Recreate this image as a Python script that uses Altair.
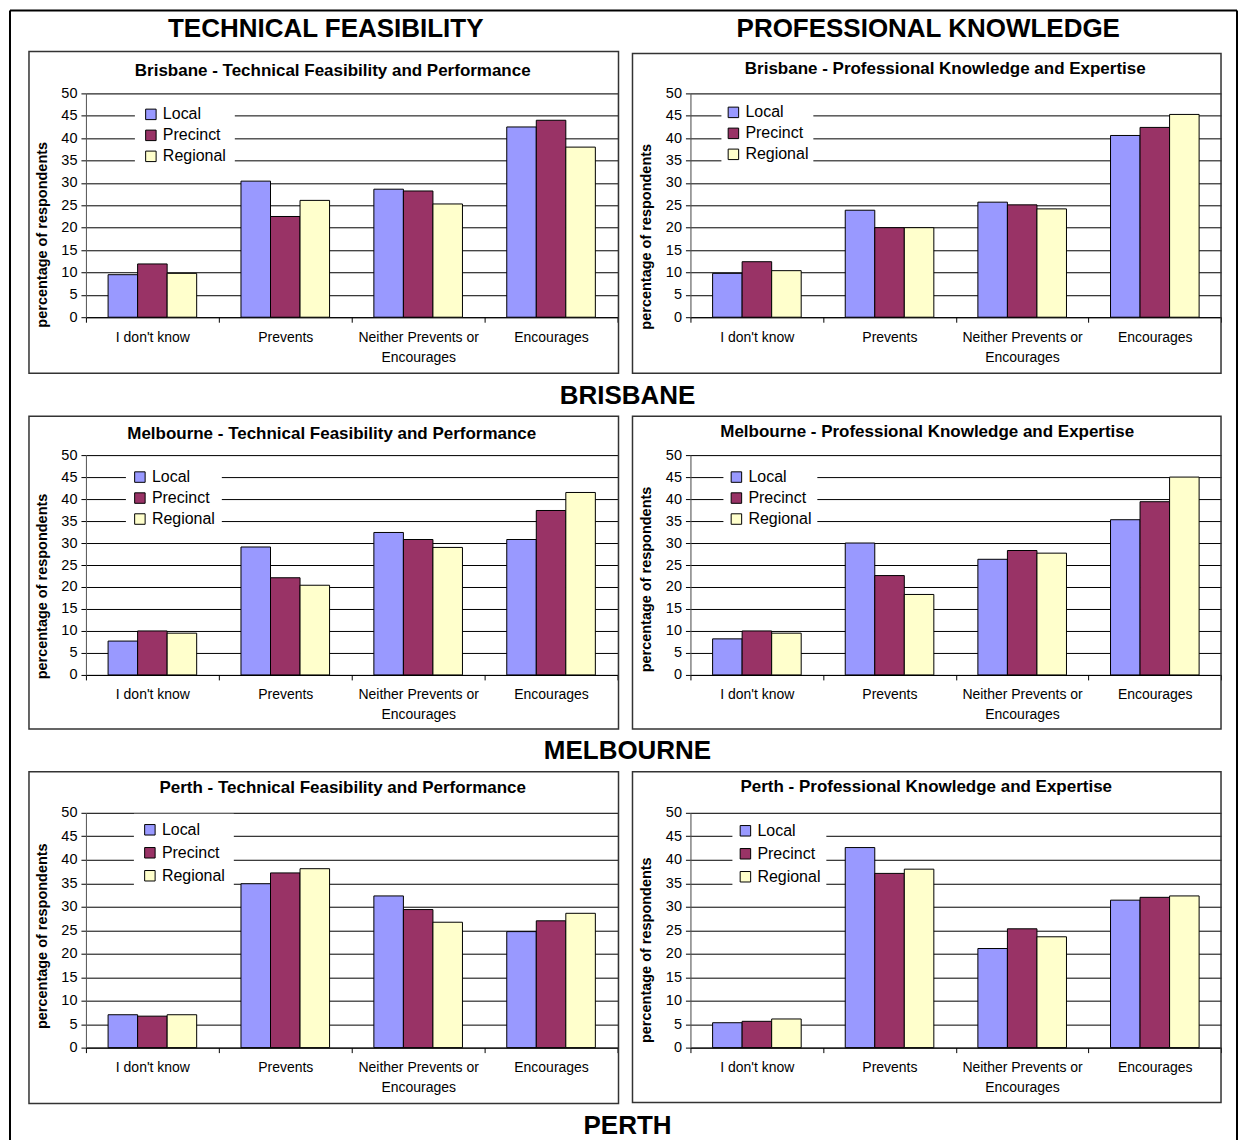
import altair as alt
import pandas as pd

FONT = "Liberation Sans"

categories = ["I don't know", "Prevents", "Neither Prevents or Encourages", "Encourages"]
series = ["Local", "Precinct", "Regional"]
colors = ["#9999FF", "#993366", "#FFFFCC"]

# Brisbane - Technical Feasibility and Performance
bris_tf_local = [9.5, 30.4, 28.6, 42.5]
bris_tf_precinct = [11.9, 22.5, 28.2, 44.0]
bris_tf_regional = [9.8, 26.1, 25.3, 38.0]
# Brisbane - Professional Knowledge and Expertise
bris_pk_local = [9.8, 23.9, 25.7, 40.6]
bris_pk_precinct = [12.4, 20.0, 25.1, 42.4]
bris_pk_regional = [10.4, 20.0, 24.2, 45.3]
# Melbourne - Technical Feasibility and Performance
melb_tf_local = [7.7, 29.1, 32.4, 30.8]
melb_tf_precinct = [10.0, 22.1, 30.8, 37.4]
melb_tf_regional = [9.5, 20.4, 29.0, 41.5]
# Melbourne - Professional Knowledge and Expertise
melb_pk_local = [8.2, 30.0, 26.3, 35.3]
melb_pk_precinct = [10.0, 22.6, 28.3, 39.4]
melb_pk_regional = [9.5, 18.3, 27.7, 45.0]
# Perth - Technical Feasibility and Performance
perth_tf_local = [7.0, 34.9, 32.3, 24.7]
perth_tf_precinct = [6.7, 37.2, 29.4, 27.0]
perth_tf_regional = [7.0, 38.1, 26.7, 28.6]
# Perth - Professional Knowledge and Expertise
perth_pk_local = [5.3, 42.6, 21.1, 31.4]
perth_pk_precinct = [5.6, 37.1, 25.3, 32.0]
perth_pk_regional = [6.1, 38.0, 23.6, 32.3]

one = pd.DataFrame({"a": [0]})


def text_layer(txt, x, y, size, weight="bold"):
    return alt.Chart(pd.DataFrame({"t": [txt]})).mark_text(
        font=FONT, fontSize=size, fontWeight=weight, align="center",
        baseline="middle", color="black"
    ).encode(text="t:N", x=alt.value(x), y=alt.value(y))


def vrule(x, y1, y2, w=2, c="black"):
    return alt.Chart(one).mark_rule(color=c, strokeWidth=w).encode(
        x=alt.value(x), y=alt.value(y1), y2=alt.value(y2))


def hrule(y, x1, x2, w=2, c="black"):
    return alt.Chart(one).mark_rule(color=c, strokeWidth=w).encode(
        y=alt.value(y), x=alt.value(x1), x2=alt.value(x2))


def panel(title, local, precinct, regional, W, H, box, tpos, ytx, yty, leg, extras):
    df = pd.DataFrame({
        "category": categories * 3,
        "series": [s for s in series for _ in categories],
        "value": local + precinct + regional,
    })
    lx, ly, lpad, lrow = leg
    border = alt.Chart(one).mark_rect(
        fill="transparent", stroke="#333333", strokeWidth=1.5
    ).encode(x=alt.value(box[0]), x2=alt.value(box[1]),
             y=alt.value(box[2]), y2=alt.value(box[3]))
    bars = alt.Chart(df).mark_bar(stroke="black", strokeWidth=1).encode(
        x=alt.X("category:N", sort=categories, title=None,
                scale=alt.Scale(paddingInner=0, paddingOuter=0),
                axis=alt.Axis(
                    labelAngle=0, tickBand="extent", tickSize=5, tickColor="black",
                    domainColor="black", labelFont=FONT, labelFontSize=14,
                    labelColor="black", labelPadding=8, labelLineHeight=20,
                    grid=False,
                    labelExpr="datum.label == 'Neither Prevents or Encourages' ? ['Neither Prevents or', 'Encourages'] : datum.label")),
        xOffset=alt.XOffset("series:N", sort=series,
                            scale=alt.Scale(paddingInner=0, paddingOuter=0.75)),
        y=alt.Y("value:Q", scale=alt.Scale(domain=[0, 50], nice=False),
                axis=alt.Axis(
                    values=list(range(0, 51, 5)), grid=True, gridColor="black",
                    gridWidth=1, domainColor="#555555", tickColor="black",
                    tickSize=5, labelFont=FONT, labelFontSize=14.5, labelColor="black",
                    labelPadding=4, title="percentage of respondents",
                    titleFont=FONT, titleFontSize=14.5, titleFontWeight="bold",
                    titleColor="black", titleAngle=270, titleX=ytx, titleY=yty,
                    titleAlign="center", titleBaseline="middle")),
        color=alt.Color("series:N", sort=series,
                        scale=alt.Scale(domain=series, range=colors),
                        legend=alt.Legend(
                            orient="none", legendX=lx, legendY=ly, direction="vertical",
                            fillColor="white", padding=lpad, symbolType="square",
                            symbolSize=110, symbolStrokeColor="black",
                            symbolStrokeWidth=1, labelFont=FONT, labelFontSize=16,
                            labelColor="black", rowPadding=lrow, labelOffset=4,
                            title=None)),
    )
    ttl = text_layer(title, tpos[0], tpos[1], 17)
    return alt.layer(border, bars, ttl, *extras).properties(width=W, height=H)


outer = [
    vrule(-76, -83, 1056),
    hrule(-83, -76, 1152),
    vrule(1152, -83, 1056),
]

p1 = panel("Brisbane - Technical Feasibility and Performance",
           bris_tf_local, bris_tf_precinct, bris_tf_regional,
           532, 224, (-57, 533, -42, 280), (247, -22), -43, 141, (49, 5, 8, 5),
           outer + [text_layer("TECHNICAL FEASIBILITY", 240, -64, 26),
                    text_layer("BRISBANE", 542, 303, 26)])
p2 = panel("Brisbane - Professional Knowledge and Expertise",
           bris_pk_local, bris_pk_precinct, bris_pk_regional,
           531, 224, (-58, 531, -40, 280), (255, -24), -44, 143, (31, 7, 4, 5),
           [text_layer("PROFESSIONAL KNOWLEDGE", 238, -64, 26)])
p3 = panel("Melbourne - Technical Feasibility and Performance",
           melb_tf_local, melb_tf_precinct, melb_tf_regional,
           532, 220, (-57, 533, -39, 274), (246, -21), -43, 131, (40, 8, 6, 5),
           [text_layer("MELBOURNE", 542, 296, 26)])
p4 = panel("Melbourne - Professional Knowledge and Expertise",
           melb_pk_local, melb_pk_precinct, melb_pk_regional,
           531, 220, (-58, 531, -39, 274), (237, -23), -44, 124, (33, 9, 5, 5),
           [])
p5 = panel("Perth - Technical Feasibility and Performance",
           perth_tf_local, perth_tf_precinct, perth_tf_regional,
           532, 235, (-57, 533, -41, 291), (257, -25), -43, 123, (48, 1, 8, 7),
           [text_layer("PERTH", 542, 313, 26)])
p6 = panel("Perth - Professional Knowledge and Expertise",
           perth_pk_local, perth_pk_precinct, perth_pk_regional,
           531, 235, (-58, 531, -41, 290), (236, -26), -44, 137, (42, 5, 5, 7),
           [])

chart = alt.concat(
    p1, p2, p3, p4, p5, p6,
    columns=2,
    spacing={"row": 138, "column": 73},
    bounds="flush",
).resolve_scale(color="independent").properties(
    padding=0
).configure_view(strokeWidth=0).configure(background="white")

chart.save("out.html", embed_options={"renderer": "svg", "actions": False})
